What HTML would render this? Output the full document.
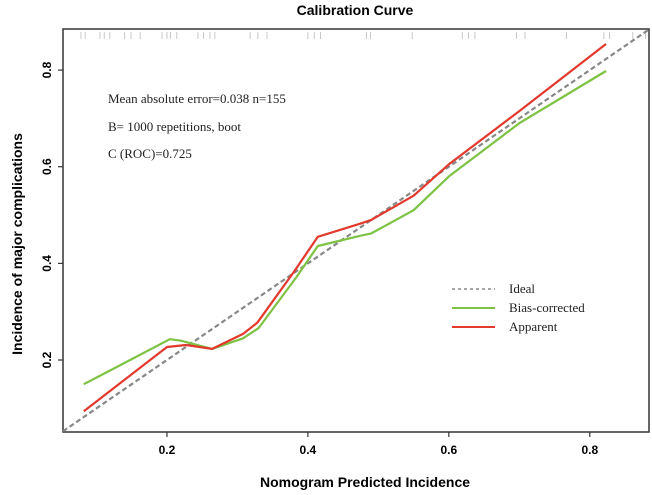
<!DOCTYPE html>
<html><head><meta charset="utf-8"><style>
html,body{margin:0;padding:0;background:#fff;}
svg{display:block;}
.sans{font-family:"Liberation Sans",Arial,sans-serif;font-weight:bold;}
.serif{font-family:"Liberation Serif","DejaVu Serif",serif;}
</style></head><body>
<svg id="chart" width="652" height="495" xmlns="http://www.w3.org/2000/svg">
<text class="sans" x="355" y="15" font-size="14" text-anchor="middle">Calibration Curve</text>
<text class="sans" x="365" y="487" font-size="14" text-anchor="middle">Nomogram Predicted Incidence</text>
<text class="sans" x="0" y="0" font-size="14" text-anchor="middle" transform="translate(22,244) rotate(-90)">Incidence of major complications</text>
<g id="rug"></g>
<g id="axes"></g>
<g id="series"></g>
<g class="serif" font-size="13" fill="#222">
<text x="108" y="103">Mean absolute error=0.038 n=155</text>
<text x="108" y="131">B= 1000 repetitions, boot</text>
<text x="108" y="158">C (ROC)=0.725</text>
</g>
<g>
<line x1="452" y1="289" x2="495" y2="289" stroke="#888" stroke-width="1.5" stroke-dasharray="3,3"/>
<text class="serif" x="509" y="293" font-size="13" fill="#222">Ideal</text>
<line x1="452" y1="308" x2="495" y2="308" stroke="#7dc243" stroke-width="2"/>
<text class="serif" x="509" y="312" font-size="13" fill="#222">Bias-corrected</text>
<line x1="452" y1="327" x2="495" y2="327" stroke="#e2392d" stroke-width="2"/>
<text class="serif" x="509" y="331" font-size="13" fill="#222">Apparent</text>
</g>
</svg>
<script>
const xTicks=[0.2,0.4,0.6,0.8];
const yTicks=[0.2,0.4,0.6,0.8];
const apparentX=[0.082,0.2,0.227,0.264,0.308,0.328,0.379,0.414,0.474,0.49,0.55,0.6,0.7,0.823];
const apparentY=[0.094,0.227,0.231,0.223,0.254,0.277,0.38,0.455,0.482,0.49,0.54,0.605,0.715,0.854];
const biasX=[0.082,0.204,0.22,0.264,0.308,0.33,0.384,0.414,0.474,0.49,0.55,0.6,0.7,0.823];
const biasY=[0.150,0.243,0.24,0.223,0.245,0.266,0.372,0.436,0.457,0.462,0.51,0.58,0.69,0.798];
const rugValues=[0.078,0.084,0.105,0.111,0.119,0.140,0.149,0.162,0.193,0.2,0.205,0.214,0.244,0.252,0.261,0.268,0.318,0.329,0.342,0.4,0.409,0.418,0.483,0.489,0.548,0.619,0.628,0.637,0.696,0.708,0.767,0.82,0.828,0.861,0.879];
const L=63,R=649,T=29,B=432;
const xmin=0.0525,xmax=0.884,ymin=0.051,ymax=0.885;
const sx=v=>L+(v-xmin)/(xmax-xmin)*(R-L);
const sy=v=>B-(v-ymin)/(ymax-ymin)*(B-T);
const NS='http://www.w3.org/2000/svg';
function mk(tag,attrs,parent){const e=document.createElementNS(NS,tag);for(const k in attrs)e.setAttribute(k,attrs[k]);parent.appendChild(e);return e;}
const axes=document.getElementById('axes'),series=document.getElementById('series'),rug=document.getElementById('rug');
rugValues.forEach(v=>{const l=mk('line',{x1:sx(v),x2:sx(v),y1:32,y2:39,stroke:'#bbb','stroke-width':0.8},rug);

});
// ideal
const id=mk('line',{x1:sx(xmin),y1:sy(xmin),x2:sx(xmax),y2:sy(xmax),stroke:'#888','stroke-width':2.2,'stroke-dasharray':'5,3'},series);


function path(xs,ys,color,name){const d=xs.map((x,i)=>(i?'L':'M')+sx(x).toFixed(1)+','+sy(ys[i]).toFixed(1)).join('');
const p=mk('path',{d:d,fill:'none',stroke:color,'stroke-width':2.2,'stroke-linejoin':'round'},series);

}
path(biasX,biasY,'#7dc243','bias-corrected-line');
path(apparentX,apparentY,'#e2392d','apparent-line');
const frame=mk('rect',{x:L,y:T,width:R-L,height:B-T,fill:'none',stroke:'#333','stroke-width':1.5},axes);


xTicks.forEach(v=>{mk('line',{x1:sx(v),x2:sx(v),y1:B,y2:B+5,stroke:'#333','stroke-width':1.2},axes);
const t=mk('text',{x:sx(v),y:B+22,'font-size':12,'text-anchor':'middle',class:'sans'},axes);t.textContent=v.toFixed(1);

});
yTicks.forEach(v=>{mk('line',{x1:L-5,x2:L,y1:sy(v),y2:sy(v),stroke:'#333','stroke-width':1.2},axes);
const t=mk('text',{x:0,y:0,'font-size':12,'text-anchor':'middle',class:'sans',transform:'translate('+(L-12)+','+sy(v)+') rotate(-90)'},axes);t.textContent=v.toFixed(1);

});
</script>
</body></html>
